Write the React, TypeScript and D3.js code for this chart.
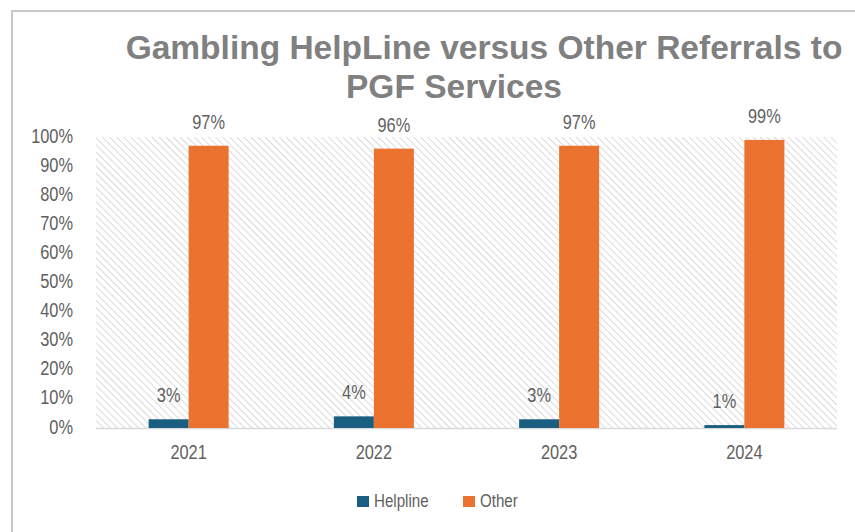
import React from "react";
import * as d3 from "d3";

const years = ["2021", "2022", "2023", "2024"];
const helpline = [3, 4, 3, 1];
const other = [97, 96, 97, 99];
const yTicks = [0, 10, 20, 30, 40, 50, 60, 70, 80, 90, 100];
const seriesNames = ["Helpline", "Other"];
const seriesColors = ["#1a5f82", "#ec7230"];
const titleLines = ["Gambling HelpLine versus Other Referrals to", "PGF Services"];

const W = 855;
const H = 532;
const plot = { left: 96, right: 837, top: 137, bottom: 428 };
const sans = "'Liberation Sans', Arial, sans-serif";
const SX = 0.84;

function NText({ x, y, anchor = "start", size = 19.5, children }: any) {
  return (
    <text
      transform={`translate(${x},${y}) scale(${SX},1.02)`}
      textAnchor={anchor}
      fontFamily={sans}
      fontSize={size}
      fill="#5f5f5f"
    >
      {children}
    </text>
  );
}

export default function App() {
  const x = d3.scaleBand<string>().domain(years).range([plot.left, plot.right]);
  const y = d3.scaleLinear().domain([0, 100]).range([plot.bottom, plot.top]);
  const barW = 40;
  const series = [helpline, other];

  return (
    <svg
      width={W}
      height={H}
      style={{ position: "absolute", left: 0, top: 0, background: "#fff" }}
    >
      <defs>
        <pattern id="hatch" patternUnits="userSpaceOnUse" width="5" height="5" patternTransform="rotate(-45)">
          <line x1="0" y1="0" x2="0" y2="5" stroke="#d4d4d4" strokeWidth="1.7" />
        </pattern>
      </defs>
      <rect x={0} y={0} width={W} height={H} fill="#fff" />
      <rect x={12} y={11} width={W + 20} height={H + 20} fill="none" stroke="#c8c8c8" strokeWidth={2} />

      <text x={484} y={59} textAnchor="middle" fontFamily={sans} fontWeight="bold" fontSize={33.5} fill="#808080">
        {titleLines[0]}
      </text>
      <text x={454} y={98} textAnchor="middle" fontFamily={sans} fontWeight="bold" fontSize={33.5} fill="#808080">
        {titleLines[1]}
      </text>

      <rect x={plot.left} y={plot.top} width={plot.right - plot.left} height={plot.bottom - plot.top} fill="url(#hatch)" />
      <line x1={plot.left} x2={plot.right} y1={plot.bottom + 0.5} y2={plot.bottom + 0.5} stroke="#d9d9d9" strokeWidth={1.5} />

      {yTicks.map((t) => (
        <NText key={t} x={73} y={y(t) + 5.5} anchor="end">
          {t}%
        </NText>
      ))}

      {years.map((yr) => (
        <NText key={yr} x={(x(yr) as number) + x.bandwidth() / 2} y={459} anchor="middle">
          {yr}
        </NText>
      ))}

      {series.map((vals, si) =>
        vals.map((v, i) => {
          const cx = (x(years[i]) as number) + x.bandwidth() / 2;
          const bx = cx - barW + si * barW;
          return (
            <g key={`${si}-${i}`}>
              <rect x={bx} y={y(v)} width={barW} height={y(0) - y(v)} fill={seriesColors[si]} />
              <NText x={bx + barW / 2} y={y(v) - 17} anchor="middle">
                {v}%
              </NText>
            </g>
          );
        })
      )}

      {seriesNames.map((name, i) => {
        const lx = [357, 463][i];
        return (
          <g key={name}>
            <rect x={lx} y={496} width={12} height={11} fill={seriesColors[i]} />
            <NText x={lx + 17} y={507} size={18}>
              {name}
            </NText>
          </g>
        );
      })}
    </svg>
  );
}
